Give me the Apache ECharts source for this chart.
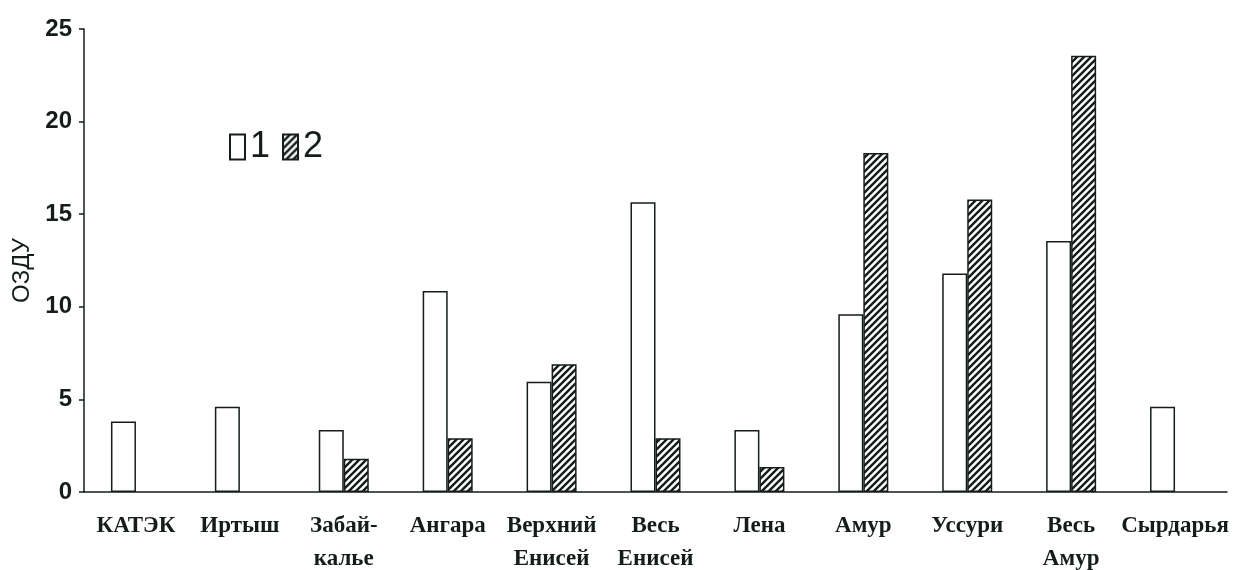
<!DOCTYPE html>
<html>
<head>
<meta charset="utf-8">
<script src="https://cdn.jsdelivr.net/npm/echarts@6/dist/echarts.min.js"></script>
<style>
html,body{margin:0;padding:0;background:#fff;}
#c{width:1258px;height:570px;}
</style>
</head>
<body>
<div id="c"></div>
<script>
const categories = ['КАТЭК', 'Иртыш', 'Забай-\nкалье', 'Ангара', 'Верхний\nЕнисей', 'Весь\nЕнисей', 'Лена', 'Амур', 'Уссури', 'Весь\nАмур', 'Сырдарья'];
const series1 = [3.8, 4.6, 3.35, 10.85, 5.95, 15.65, 3.35, 9.6, 11.8, 13.55, 4.6];
const series2 = [null, null, 1.8, 2.9, 6.9, 2.9, 1.35, 18.3, 15.8, 23.55, null];
const yTicks = [0, 5, 10, 15, 20, 25];
const seriesNames = ['1', '2'];

const ink = '#141c1c';

function hatch() {
  const s = 7;
  const cv = document.createElement('canvas');
  cv.width = s; cv.height = s;
  const g = cv.getContext('2d');
  g.fillStyle = '#fff';
  g.fillRect(0, 0, s, s);
  g.strokeStyle = ink;
  g.lineWidth = 2.4;
  g.beginPath();
  g.moveTo(-1, s + 1); g.lineTo(s + 1, -1);
  g.moveTo(-1, 1); g.lineTo(1, -1);
  g.moveTo(s - 1, s + 1); g.lineTo(s + 1, s - 1);
  g.stroke();
  return cv;
}

const chart = echarts.init(document.getElementById('c'), null, {renderer: 'canvas'});
chart.setOption({
  animation: false,
  backgroundColor: '#fff',
  grid: {left: 84, right: 31, top: 29, bottom: 78, containLabel: false, outerBoundsMode: 'none'},
  legend: {
    left: 224, top: 124,
    itemWidth: 15, itemHeight: 25, itemGap: 12,
    icon: 'rect',
    data: seriesNames,
    textStyle: {fontFamily: 'Liberation Sans', fontSize: 36, color: ink, padding: [0, 0, 0, 0]}
  },
  xAxis: {
    type: 'category',
    data: categories,
    axisLine: {lineStyle: {color: ink, width: 1.5}},
    axisTick: {show: false},
    axisLabel: {
      interval: 0, margin: 18,
      fontFamily: 'Liberation Serif', fontWeight: 'bold', fontSize: 23,
      lineHeight: 33, color: ink
    }
  },
  yAxis: {
    type: 'value',
    min: yTicks[0], max: yTicks[yTicks.length - 1], interval: 5,
    name: 'ОЗДУ', nameLocation: 'middle', nameGap: 47, nameRotate: 90,
    nameTextStyle: {fontFamily: 'Liberation Sans', fontSize: 24, color: ink, padding: [0, 20, 0, 0]},
    splitLine: {show: false},
    axisLine: {show: true, lineStyle: {color: ink, width: 1.5}},
    axisTick: {show: true, length: 5, lineStyle: {color: ink, width: 1.5}},
    axisLabel: {
      margin: 12, fontFamily: 'Liberation Sans', fontWeight: 'bold', fontSize: 24, color: ink
    }
  },
  series: [
    {
      name: seriesNames[0], type: 'bar', data: series1,
      barWidth: 25, barGap: '0%',
      itemStyle: {color: '#fff', borderColor: ink, borderWidth: 1.5}
    },
    {
      name: seriesNames[1], type: 'bar', data: series2,
      barWidth: 25, barGap: '0%',
      itemStyle: {color: {image: hatch(), repeat: 'repeat'}, borderColor: ink, borderWidth: 1.5}
    }
  ]
});
</script>
</body>
</html>
